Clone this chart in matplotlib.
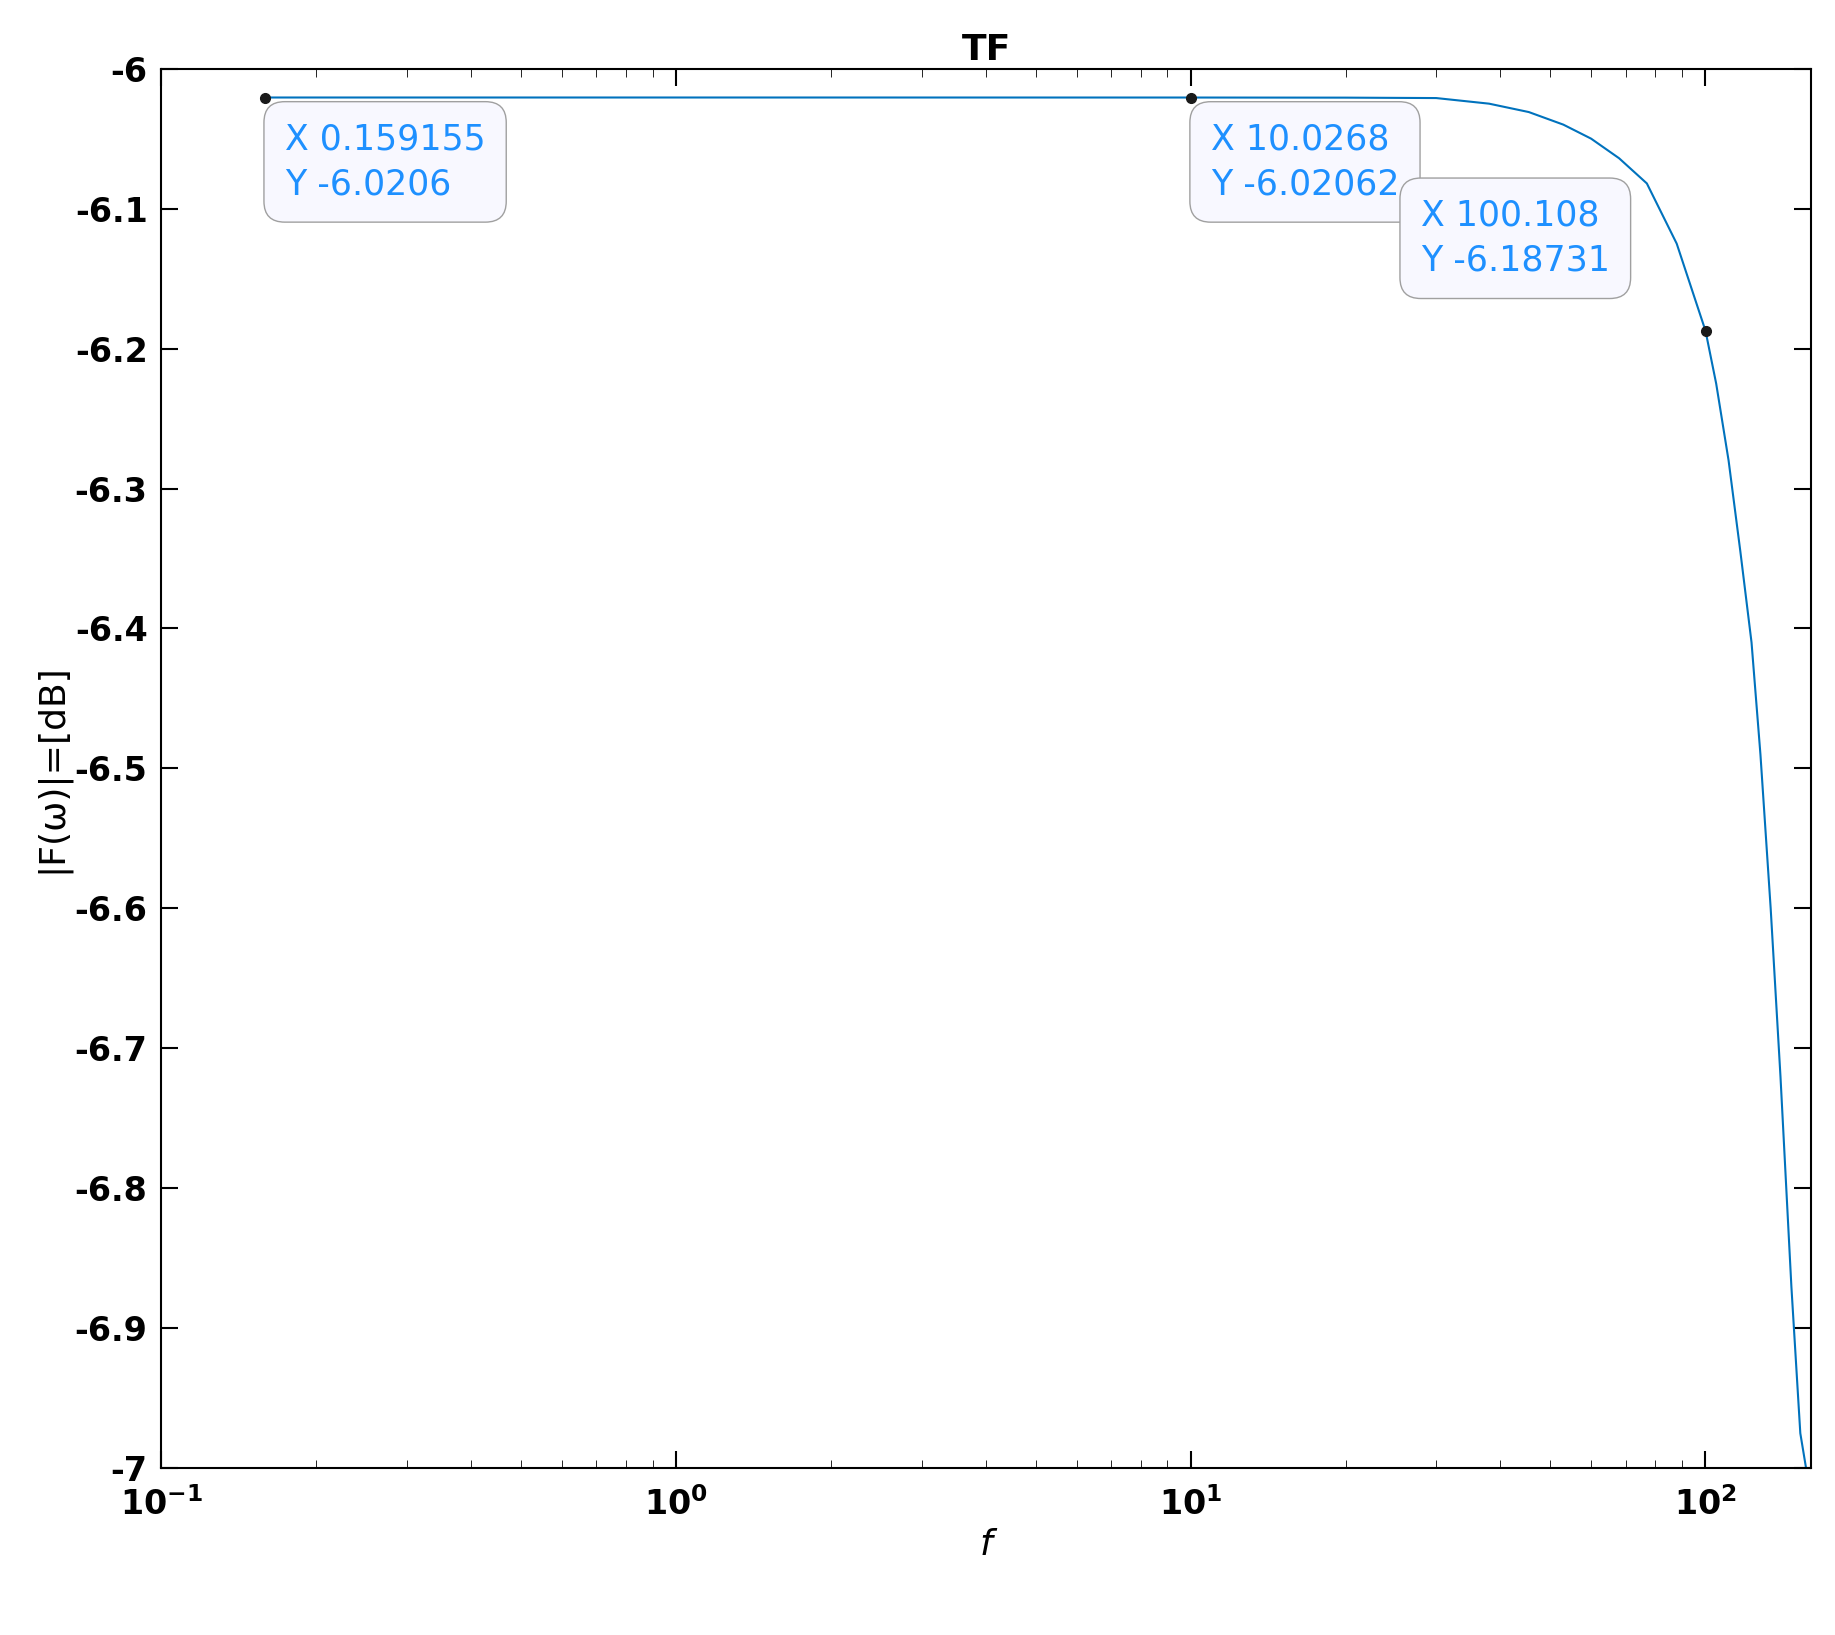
import matplotlib
matplotlib.use("Agg")
from matplotlib import pyplot as plt

# frequency response
freq = [0.159155, 1.0, 10.0268, 20.0, 30.0, 38.0, 45.4, 53.0, 60.0, 68.0, 77.0, 88.0,
        100.108, 105.0, 111.0, 117.0, 123.0, 128.0, 134.0, 140.0, 147.0, 153.0, 157.0]
mag_db = [-6.0206, -6.0206, -6.02062, -6.0207, -6.021, -6.025, -6.031, -6.04, -6.05,
          -6.064, -6.082, -6.125, -6.18731, -6.225, -6.28, -6.345, -6.41, -6.49,
          -6.6, -6.72, -6.87, -6.975, -7.0]

tip_x = [0.159155, 10.0268, 100.108]
tip_y = [-6.0206, -6.02062, -6.18731]
tip_text = [("0.159155", "-6.0206"), ("10.0268", "-6.02062"), ("100.108", "-6.18731")]
tip_off = [(14, -18), (14, -18), (-205, 95)]

fig = plt.figure(figsize=(18.35, 16.35), dpi=100)
ax = fig.add_axes([0.088, 0.102, 0.899, 0.856])
ax.semilogx(freq, mag_db, color="#0072BD", lw=1.5)
ax.plot(tip_x, tip_y, "o", color="#1a1a1a", ms=7, zorder=5)

for x, y, (sx, sy), off in zip(tip_x, tip_y, tip_text, tip_off):
    ax.annotate(f"X {sx}\nY {sy}", (x, y), xytext=off, textcoords="offset points",
                fontsize=25, va="top", ha="left", color="#1E90FF", linespacing=1.4,
                bbox=dict(boxstyle="round,pad=0.6", fc="#f8f8ff", ec="#a0a0a0"))

ax.set_xlim(0.1, 160.6)
ax.set_ylim(-7, -6)
ax.set_yticks([-6 - 0.1 * i for i in range(11)])
ax.set_yticklabels(["-6", "-6.1", "-6.2", "-6.3", "-6.4", "-6.5", "-6.6", "-6.7",
                    "-6.8", "-6.9", "-7"])
ax.tick_params(which="both", direction="in", top=True, right=True, labelsize=24)
ax.tick_params(which="major", length=12, width=1.5)
ax.tick_params(which="minor", length=6)
ax.tick_params(axis="x", pad=14)
ax.tick_params(axis="y", pad=10)
for lab in ax.get_xticklabels() + ax.get_yticklabels():
    lab.set_fontweight("bold")
for s in ax.spines.values():
    s.set_linewidth(1.5)

ax.set_title("TF", fontsize=26, fontweight="bold")
ax.set_xlabel("f", fontsize=26, style="italic")
ax.set_ylabel("|F(ω)|=[dB]", fontsize=26)
fig.savefig("out.png", dpi=100)
